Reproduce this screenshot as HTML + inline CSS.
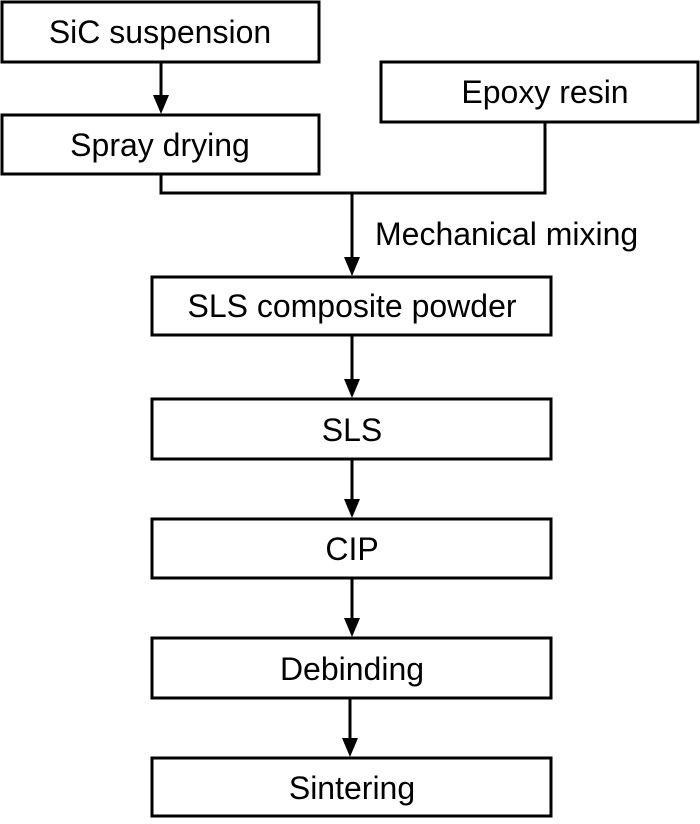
<!DOCTYPE html>
<html><head><style>body{margin:0;background:#fff}</style></head><body>
<svg width="700" height="819" xmlns="http://www.w3.org/2000/svg" font-family="Liberation Sans, Arial, sans-serif" font-size="32">
<g fill="none" stroke="#000" stroke-width="3">
<rect x="2" y="2" width="317" height="60"/>
<rect x="2" y="115" width="317" height="59"/>
<rect x="381" y="62" width="317" height="60"/>
<rect x="152" y="277" width="399" height="58"/>
<rect x="152" y="399" width="399" height="60"/>
<rect x="152" y="519" width="399" height="59"/>
<rect x="152" y="638" width="399" height="60"/>
<rect x="152" y="758" width="399" height="58"/>
<polyline points="161,174 161,193 545,193 545,122"/>
<line x1="161" y1="62" x2="161" y2="96"/>
<line x1="352" y1="193" x2="352" y2="258"/>
<line x1="352" y1="335" x2="352" y2="380"/>
<line x1="352" y1="459" x2="352" y2="500"/>
<line x1="352" y1="578" x2="352" y2="619"/>
<line x1="350" y1="698" x2="350" y2="739"/>
</g>
<g fill="#000">
<polygon points="153,95 169,95 161,114"/>
<polygon points="344,257 360,257 352,276"/>
<polygon points="344,379 360,379 352,398"/>
<polygon points="344,499 360,499 352,518"/>
<polygon points="344,618 360,618 352,637"/>
<polygon points="342,738 358,738 350,757"/>
<g text-anchor="middle">
<text x="160" y="43">SiC suspension</text>
<text x="160" y="156">Spray drying</text>
<text x="545" y="103">Epoxy resin</text>
<text x="352" y="317">SLS composite powder</text>
<text x="352" y="441">SLS</text>
<text x="352" y="560">CIP</text>
<text x="352" y="680">Debinding</text>
<text x="352" y="799">Sintering</text>
</g>
<text x="375" y="245">Mechanical mixing</text>
</g>
</svg>
</body></html>
